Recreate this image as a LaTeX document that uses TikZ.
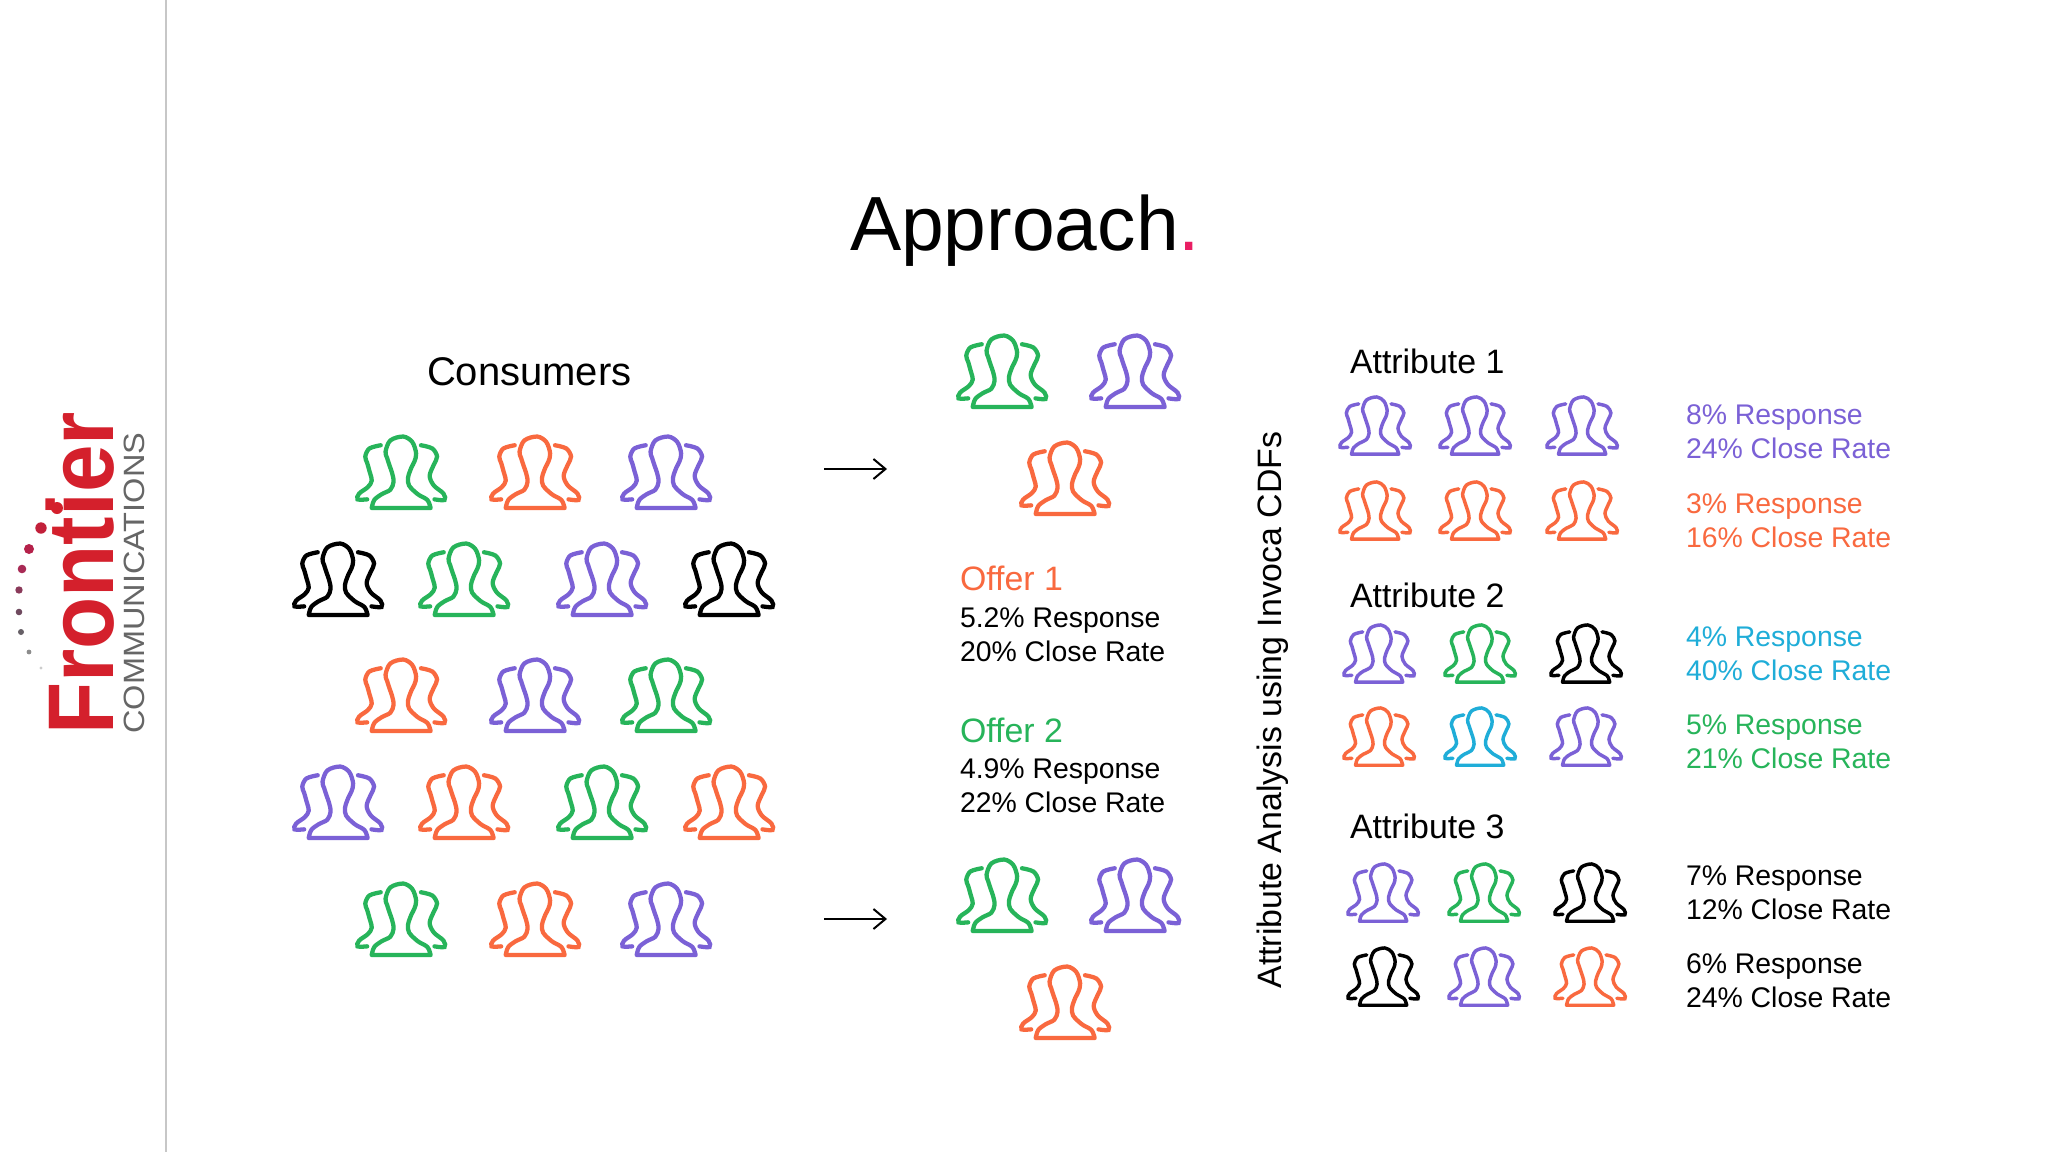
\documentclass[tikz,border=0pt]{standalone}
\usepackage{fontspec}
\setmainfont{Liberation Sans}
\usetikzlibrary{arrows.meta}
\definecolor{cp}{HTML}{7B61D6}
\definecolor{co}{HTML}{F9693F}
\definecolor{cg}{HTML}{27B45A}
\definecolor{cb}{HTML}{1FADD8}
\definecolor{ck}{HTML}{000000}
\definecolor{cr}{HTML}{D4202C}
\definecolor{cpink}{HTML}{E91E63}
\definecolor{d2}{HTML}{C2203A}
\definecolor{d3}{HTML}{B5214A}
\definecolor{d4}{HTML}{A82A55}
\definecolor{d5}{HTML}{8A3A5A}
\definecolor{d6}{HTML}{6F4A5F}
\definecolor{d7}{HTML}{666066}
\definecolor{d8}{HTML}{8C8C8C}
\definecolor{d9}{HTML}{CCCCCC}
\tikzset{
  people/.pic={
    \draw[line join=round] plot[smooth,tension=.55] coordinates {(-91,-3)(-83,-28)(-60,-46)(-33,-60)(-23,-85)(-28,-113)(-35,-133)(-43,-158)(-48,-178)(-33,-213)(7,-225)(35,-208)(47,-173)(42,-148)(32,-128)(22,-98)(25,-73)(52,-46)(82,-28)(92,-3)} -- cycle;
    \draw[line cap=round] plot[smooth,tension=.55] coordinates {(-105,-30)(-135,-30)(-130,-48)(-103,-68)(-91,-88)(-98,-118)(-105,-143)(-111,-163)(-98,-188)(-63,-198)};
    \draw[line cap=round] plot[smooth,tension=.55] coordinates {(62,-198)(97,-188)(112,-163)(102,-138)(89,-103)(102,-73)(132,-48)(135,-28)(104,-30)};
  },
  big/.style={scale=0.322,line width=3.2pt},
  small/.style={scale=0.258,line width=2.6pt},
  txt/.style={anchor=base west,inner sep=0pt,outer sep=0pt},
  fa/.style={font=\fontsize{21.3}{25}\selectfont},
  fb/.style={font=\fontsize{25.4}{30}\selectfont},
  arr/.style={line width=1.5pt,-{Straight Barb[length=9pt,width=15pt,line width=1.5pt]}},
}
\begin{document}
\begin{tikzpicture}[x=0.75pt,y=-0.75pt]
\useasboundingbox (0,0) rectangle (2048,1152);
\fill[white] (0,0) rectangle (2048,1152);
\draw[line width=0.9pt,color=black!22] (166,0) -- (166,1152);
% logo
\node[rotate=90,anchor=base west,inner sep=0pt,text=cr,xscale=.915,font=\fontsize{70}{72}\selectfont\bfseries] (frontier) at (113,735) {Frontier};
\node[rotate=90,anchor=base west,inner sep=0pt,text=black!60,xscale=1.108,font=\fontsize{22}{24}\selectfont] (comm) at (144.5,734) {COMMUNICATIONS};
\fill[cr] (57,508) circle (6);
\fill[d2] (41,528) circle (5.7);
\fill[d3] (29,549) circle (5);
\fill[d4] (22,569) circle (4.3);
\fill[d5] (19,590) circle (3.7);
\fill[d6] (19,612) circle (3.3);
\fill[d7] (21,632) circle (3);
\fill[d8] (29,652) circle (2.4);
\fill[d9] (41,668) circle (1.7);
% title
\node[txt,font=\fontsize{57.6}{60}\selectfont] (title) at (850,250) {Approach\textcolor{cpink}{.}};
\node[txt,font=\fontsize{30}{34}\selectfont] (cons) at (427,385) {Consumers};
% consumers
\pic (a1) [big,color=cg] at (401,509) {people};
\pic (a2) [big,color=co] at (535,509) {people};
\pic (a3) [big,color=cp] at (666,509) {people};
\pic (b1) [big,color=ck] at (338,616) {people};
\pic (b2) [big,color=cg] at (464,616) {people};
\pic (b3) [big,color=cp] at (602,616) {people};
\pic (b4) [big,color=ck] at (729,616) {people};
\pic (c1) [big,color=co] at (401,732) {people};
\pic (c2) [big,color=cp] at (535,732) {people};
\pic (c3) [big,color=cg] at (666,732) {people};
\pic (d1) [big,color=cp] at (338,839) {people};
\pic (d2) [big,color=co] at (464,839) {people};
\pic (d3) [big,color=cg] at (602,839) {people};
\pic (d4) [big,color=co] at (729,839) {people};
\pic (e1) [big,color=cg] at (401,956) {people};
\pic (e2) [big,color=co] at (535,956) {people};
\pic (e3) [big,color=cp] at (666,956) {people};
% arrows
\coordinate (s1) at (824,469); \coordinate (t1) at (887,469);
\coordinate (s2) at (824,919); \coordinate (t2) at (887,919);
\draw[arr] (s1) -- (t1);
\draw[arr] (s2) -- (t2);
% offers
\pic (f1) [big,color=cg] at (1002,408) {people};
\pic (f2) [big,color=cp] at (1135,408) {people};
\pic (f3) [big,color=co] at (1065,515) {people};
\pic (g1) [big,color=cg] at (1002,932) {people};
\pic (g2) [big,color=cp] at (1135,932) {people};
\pic (g3) [big,color=co] at (1065,1039) {people};
\node[txt,fb,text=co] (o1) at (960,590) {Offer 1};
\node[txt,fa] (o1a) at (960,627) {5.2\% Response};
\node[txt,fa] (o1b) at (960,661) {20\% Close Rate};
\node[txt,fb,text=cg] (o2) at (960,742) {Offer 2};
\node[txt,fa] (o2a) at (960,778) {4.9\% Response};
\node[txt,fa] (o2b) at (960,812) {22\% Close Rate};
% rotated
\node[rotate=90,anchor=base,inner sep=0pt,fb] (rot) at (1281,710) {Attribute Analysis using Invoca CDFs};
% attribute 1
\node[txt,fb] (h1) at (1350,373) {Attribute 1};
\pic (p1) [small,color=cp] at (1375,455) {people};
\pic (p2) [small,color=cp] at (1475,455) {people};
\pic (p3) [small,color=cp] at (1582,455) {people};
\pic (p4) [small,color=co] at (1375,540) {people};
\pic (p5) [small,color=co] at (1475,540) {people};
\pic (p6) [small,color=co] at (1582,540) {people};
\node[txt,fa,text=cp] (r1) at (1686,424) {8\% Response};
\node[txt,fa,text=cp] (r2) at (1686,458) {24\% Close Rate};
\node[txt,fa,text=co] (r3) at (1686,513) {3\% Response};
\node[txt,fa,text=co] (r4) at (1686,547) {16\% Close Rate};
% attribute 2
\node[txt,fb] (h2) at (1350,607) {Attribute 2};
\pic (q1) [small,color=cp] at (1379,683) {people};
\pic (q2) [small,color=cg] at (1480,683) {people};
\pic (q3) [small,color=ck] at (1586,683) {people};
\pic (q4) [small,color=co] at (1379,766) {people};
\pic (q5) [small,color=cb] at (1480,766) {people};
\pic (q6) [small,color=cp] at (1586,766) {people};
\node[txt,fa,text=cb] (r5) at (1686,646) {4\% Response};
\node[txt,fa,text=cb] (r6) at (1686,680) {40\% Close Rate};
\node[txt,fa,text=cg] (r7) at (1686,734) {5\% Response};
\node[txt,fa,text=cg] (r8) at (1686,768) {21\% Close Rate};
% attribute 3
\node[txt,fb] (h3) at (1350,838) {Attribute 3};
\pic (u1) [small,color=cp] at (1383,922) {people};
\pic (u2) [small,color=cg] at (1484,922) {people};
\pic (u3) [small,color=ck] at (1590,922) {people};
\pic (u4) [small,color=ck] at (1383,1006) {people};
\pic (u5) [small,color=cp] at (1484,1006) {people};
\pic (u6) [small,color=co] at (1590,1006) {people};
\node[txt,fa] (r9) at (1686,885) {7\% Response};
\node[txt,fa] (r10) at (1686,919) {12\% Close Rate};
\node[txt,fa] (r11) at (1686,973) {6\% Response};
\node[txt,fa] (r12) at (1686,1007) {24\% Close Rate};
\end{tikzpicture}
\end{document}
